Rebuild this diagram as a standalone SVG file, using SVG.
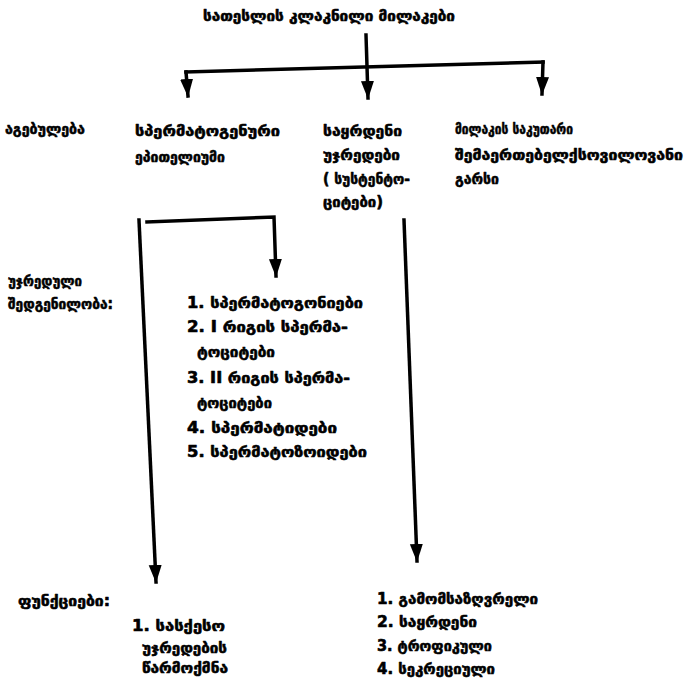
<svg xmlns="http://www.w3.org/2000/svg" width="688" height="679" viewBox="0 0 688 679">
  <style>
    .t { font-family: "DejaVu Sans", "Noto Sans", sans-serif; font-weight: bold; font-size: 15px; fill: #000; stroke: #000; stroke-width: 0.6px; stroke-linejoin: round; }
    .c { fill: none; stroke: #000; stroke-width: 3.5; stroke-linecap: square; stroke-linejoin: miter; }
  </style>
  <defs>
    <marker id="ah" markerUnits="userSpaceOnUse" markerWidth="18" markerHeight="14" refX="17" refY="6.5" orient="auto" viewBox="0 0 18 13">
      <path d="M0,0 L18,6.5 L0,13 Z" fill="#000"/>
    </marker>
  </defs>

  <!-- connectors -->
  <g id="connectors">
    <path class="c" d="M366,35 L368,98" marker-end="url(#ah)"/>
    <path class="c" d="M186,72 L543,62"/>
    <path class="c" d="M186,72 L188,96" marker-end="url(#ah)"/>
    <path class="c" d="M543,62 L542,94" marker-end="url(#ah)"/>
    <path class="c" d="M139,220 L156,582" marker-end="url(#ah)"/>
    <path class="c" d="M147,222 L274,217 L276,276" marker-end="url(#ah)"/>
    <path class="c" d="M404,220 L417,561" marker-end="url(#ah)"/>
  </g>

  <!-- title -->
  <g id="title">
    <text class="t" x="203" y="21" textLength="252" lengthAdjust="spacingAndGlyphs">სათესლის კლაკნილი მილაკები</text>
  </g>

  <!-- row labels -->
  <g id="label-structure">
    <text class="t" x="5" y="134" textLength="80" lengthAdjust="spacingAndGlyphs">აგებულება</text>
  </g>
  <g id="label-composition">
    <text class="t" x="8" y="286" textLength="74" lengthAdjust="spacingAndGlyphs">უჯრედული</text>
    <text class="t" x="8" y="309" textLength="105" lengthAdjust="spacingAndGlyphs">შედგენილობა:</text>
  </g>
  <g id="label-functions">
    <text class="t" x="18" y="606" textLength="92" lengthAdjust="spacingAndGlyphs">ფუნქციები:</text>
  </g>

  <!-- structure nodes -->
  <g id="node-epithelium">
    <text class="t" x="135" y="136" textLength="145" lengthAdjust="spacingAndGlyphs">სპერმატოგენური</text>
    <text class="t" x="135" y="162" textLength="90" lengthAdjust="spacingAndGlyphs">ეპითელიუმი</text>
  </g>
  <g id="node-supporting">
    <text class="t" x="323" y="136" textLength="79" lengthAdjust="spacingAndGlyphs">საყრდენი</text>
    <text class="t" x="323" y="160" textLength="77" lengthAdjust="spacingAndGlyphs">უჯრედები</text>
    <text class="t" x="323" y="184" textLength="87" lengthAdjust="spacingAndGlyphs">( სუსტენტო-</text>
    <text class="t" x="323" y="207" textLength="60" lengthAdjust="spacingAndGlyphs">ციტები)</text>
  </g>
  <g id="node-membrane">
    <text class="t" x="455" y="134" textLength="118" lengthAdjust="spacingAndGlyphs">მილაკის საკუთარი</text>
    <text class="t" x="455" y="160" textLength="228" lengthAdjust="spacingAndGlyphs">შემაერთებელქსოვილოვანი</text>
    <text class="t" x="455" y="184" textLength="44" lengthAdjust="spacingAndGlyphs">გარსი</text>
  </g>

  <!-- cell composition -->
  <g id="node-cells">
    <text class="t" x="187" y="308" textLength="176" lengthAdjust="spacingAndGlyphs">1. სპერმატოგონიები</text>
    <text class="t" x="187" y="332" textLength="161" lengthAdjust="spacingAndGlyphs">2. I რიგის სპერმა-</text>
    <text class="t" x="197" y="357" textLength="78" lengthAdjust="spacingAndGlyphs">ტოციტები</text>
    <text class="t" x="187" y="383" textLength="163" lengthAdjust="spacingAndGlyphs">3. II რიგის სპერმა-</text>
    <text class="t" x="197" y="408" textLength="75" lengthAdjust="spacingAndGlyphs">ტოციტები</text>
    <text class="t" x="187" y="433" textLength="150" lengthAdjust="spacingAndGlyphs">4. სპერმატიდები</text>
    <text class="t" x="187" y="457" textLength="180" lengthAdjust="spacingAndGlyphs">5. სპერმატოზოიდები</text>
  </g>

  <!-- functions -->
  <g id="node-func-epithelium">
    <text class="t" x="132" y="631" textLength="93" lengthAdjust="spacingAndGlyphs">1. სასქესო</text>
    <text class="t" x="142" y="653" textLength="85" lengthAdjust="spacingAndGlyphs">უჯრედების</text>
    <text class="t" x="142" y="673" textLength="86" lengthAdjust="spacingAndGlyphs">წარმოქმნა</text>
  </g>
  <g id="node-func-supporting">
    <text class="t" x="377" y="604" textLength="161" lengthAdjust="spacingAndGlyphs">1. გამომსაზღვრელი</text>
    <text class="t" x="377" y="627" textLength="100" lengthAdjust="spacingAndGlyphs">2. საყრდენი</text>
    <text class="t" x="377" y="651" textLength="115" lengthAdjust="spacingAndGlyphs">3. ტროფიკული</text>
    <text class="t" x="377" y="674" textLength="118" lengthAdjust="spacingAndGlyphs">4. სეკრეციული</text>
  </g>
</svg>
